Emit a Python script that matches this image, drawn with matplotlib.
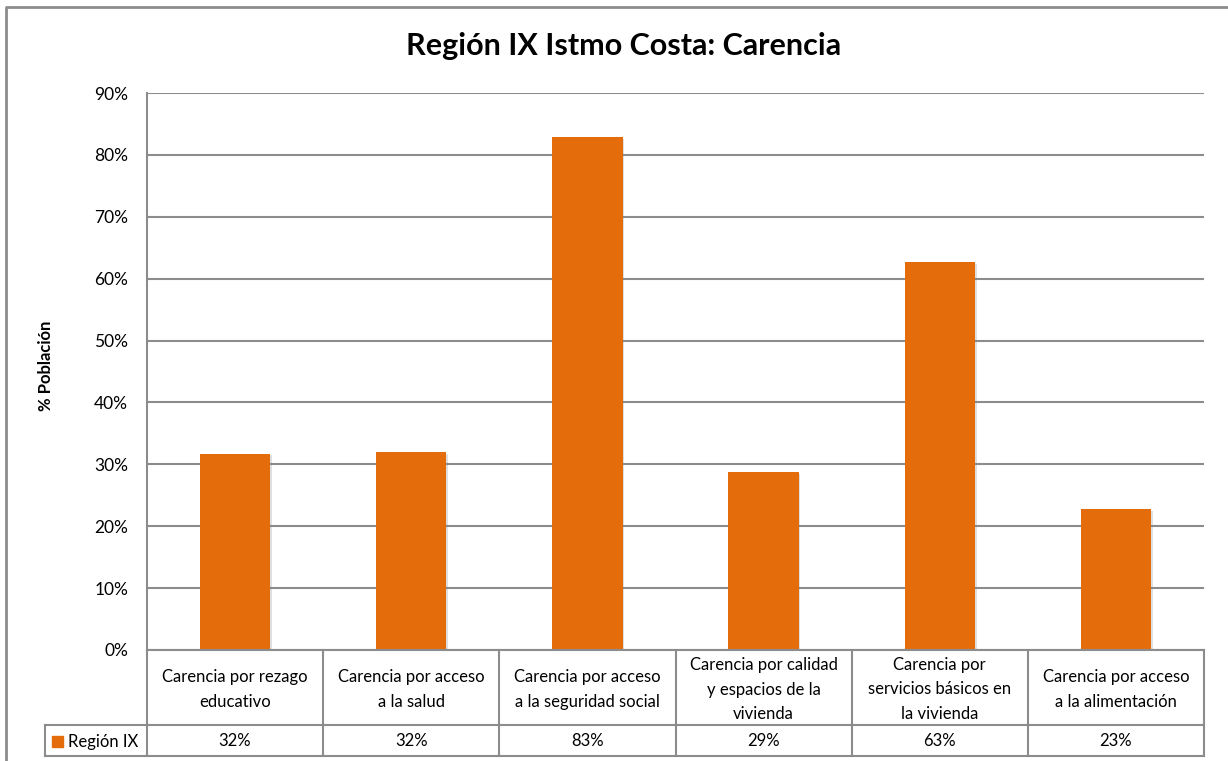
import matplotlib
matplotlib.use("Agg")
import matplotlib.pyplot as plt
from matplotlib.lines import Line2D
from matplotlib.patches import Rectangle
import matplotlib.patheffects as pe

# ---- data ----
categories = [
    "Carencia por rezago\neducativo",
    "Carencia por acceso\na la salud",
    "Carencia por acceso\na la seguridad social",
    "Carencia por calidad\ny espacios de la\nvivienda",
    "Carencia por\nservicios básicos en\nla vivienda",
    "Carencia por acceso\na la alimentación",
]
values = [31.7, 32.0, 82.9, 28.7, 62.7, 22.8]
series_name = "Región IX"
yticks = [0, 10, 20, 30, 40, 50, 60, 70, 80, 90]
ytick_labels = [f"{t}%" for t in yticks]
title = "Región IX Istmo Costa: Carencia"
ylabel = "% Población"

# ---- styling ----
W, H = 1228, 761
BAR = "#E46C0A"
GRID = "#8C8C8C"
FONT = ["Lato", "DejaVu Sans"]
plt.rcParams["font.family"] = FONT

fig = plt.figure(figsize=(W / 100, H / 100), dpi=100)

def fx(x):
    return x / W

def fy(y):
    return 1 - y / H

L, R, T, B = 147, 1204, 93, 650
ax = fig.add_axes([fx(L), fy(B), (R - L) / W, (B - T) / H])
x = list(range(len(categories)))
bars = ax.bar(x, values, width=0.4, color=BAR, zorder=3)
for b in bars:
    b.set_path_effects([pe.SimplePatchShadow(offset=(1.2, -1.2), shadow_rgbFace="#808080", alpha=0.25), pe.Normal()])

ax.set_xlim(-0.5, len(categories) - 0.5)
ax.set_ylim(0, 90)
ax.set_yticks(yticks)
ax.set_yticklabels(ytick_labels, fontsize=12.5, color="#000000")
ax.tick_params(axis="y", length=0, pad=13.5)
ax.set_xticks([])
ax.yaxis.grid(True, color=GRID, linewidth=1.5, zorder=0)
for s in ["top", "right", "bottom"]:
    ax.spines[s].set_visible(False)
ax.spines["left"].set_color(GRID)
ax.spines["left"].set_linewidth(1.5)

# y label
fig.text(fx(46), fy(366), ylabel, rotation=90, ha="center", va="center",
         fontsize=12, fontweight="bold")

# title
fig.text(fx(624), fy(55), title, ha="center", va="baseline",
         fontsize=22, fontweight="bold")

# ---- data table below ----
def hline(x0, x1, y, lw=1.5):
    fig.add_artist(Line2D([fx(x0), fx(x1)], [fy(y), fy(y)], color=GRID, lw=lw))

def vline(x0, y0, y1, lw=1.5):
    fig.add_artist(Line2D([fx(x0), fx(x0)], [fy(y0), fy(y1)], color=GRID, lw=lw))

row1_top, row2_top, row2_bot = 650, 725, 756
legend_left = 45
cw = (R - L) / len(categories)

hline(L, R, row1_top)
hline(legend_left, R, row2_top)
hline(legend_left, R, row2_bot)
vline(legend_left, row2_top, row2_bot)
for i in range(len(categories) + 1):
    xx = L + i * cw
    vline(xx, row1_top, row2_bot)

for i, (c, v) in enumerate(zip(categories, values)):
    cx = L + (i + 0.5) * cw
    fig.text(fx(cx), fy((row1_top + row2_top) / 2 + 2), c, ha="center", va="center",
             fontsize=12, linespacing=1.65)
    fig.text(fx(cx), fy((row2_top + row2_bot) / 2 + 1), f"{round(v)}%", ha="center",
             va="center", fontsize=12)

# legend key
fig.add_artist(Rectangle((fx(52), fy(747)), 11 / W, 11 / H, transform=fig.transFigure,
                         color=BAR))
fig.text(fx(68), fy((row2_top + row2_bot) / 2 + 1), series_name, ha="left", va="center",
         fontsize=12)

# outer frame
fig.add_artist(Line2D([fx(6), fx(6), fx(W + 5)], [fy(H + 5), fy(7), fy(7)],
                      color=GRID, lw=2))

fig.savefig("out.png", dpi=100)
